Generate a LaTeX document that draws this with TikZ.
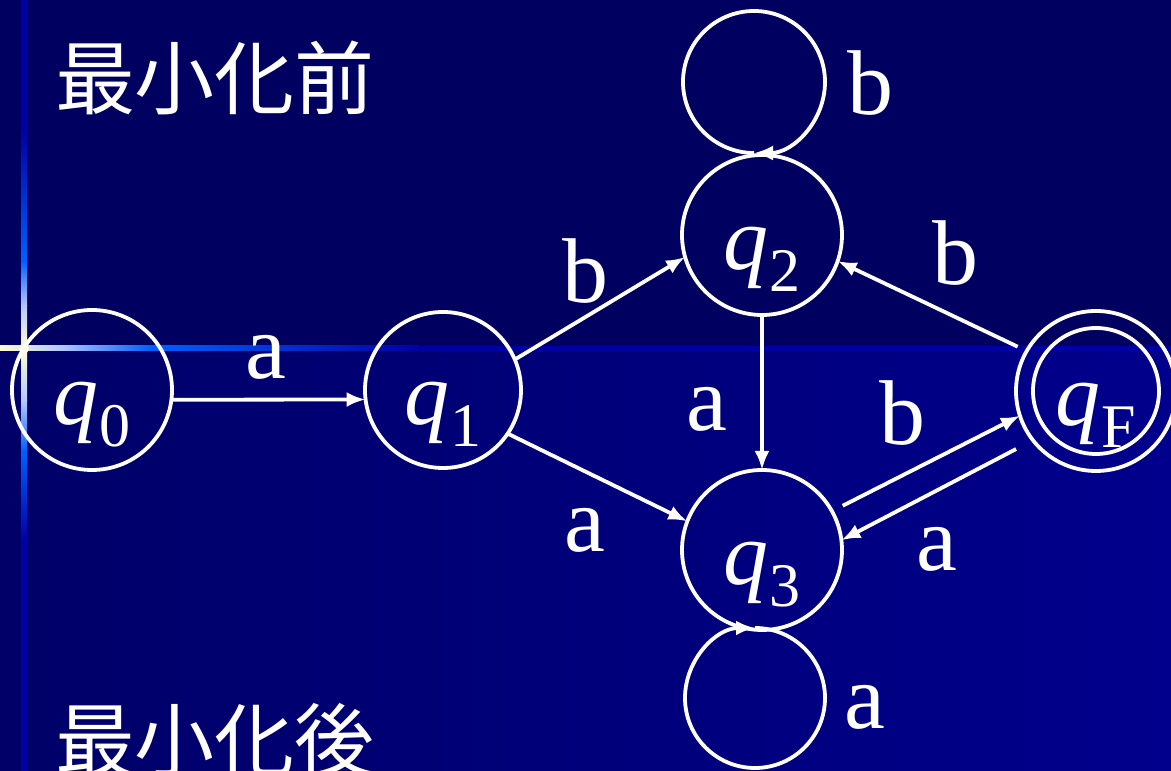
\documentclass[tikz,border=0pt]{standalone}
\usepackage{fontspec}
\setmainfont{Liberation Serif}
\newfontfamily\tnr{Liberation Serif}
\newfontfamily\cjkfont{Noto Sans CJK JP}
\usetikzlibrary{arrows.meta,calc}
\definecolor{bgtop}{RGB}{0,0,96}
\definecolor{bgbl}{RGB}{0,0,104}
\definecolor{bgbr}{RGB}{0,0,140}
\definecolor{barblue}{RGB}{0,0,165}
\definecolor{glowblue}{RGB}{0,96,255}
\definecolor{glowpale}{RGB}{255,252,215}
\definecolor{glowmid}{RGB}{180,200,255}
\newcommand{\qs}[1]{\raisebox{-35pt}[0pt][0pt]{\tnr\itshape q\upshape\kern1pt\raisebox{-22pt}{\fontsize{62}{62}\selectfont #1}}}
\begin{document}
\begin{tikzpicture}[x=1pt,y=1pt,
  stt/.style={circle,draw=white,line width=3.8pt,minimum size=#1,inner sep=0pt,outer sep=0pt,
    text=white,font=\tnr\fontsize{90}{90}\selectfont},
  tr/.style={draw=white,line width=3.8pt,-{Latex[length=19pt,width=15pt]}},
  lab/.style={text=white,font=\tnr\fontsize{92}{92}\selectfont,inner sep=0pt},
  ttl/.style={text=white,font=\cjkfont\fontsize{80}{80}\selectfont,inner sep=0pt}]
% background
\fill[bgtop] (0,0) rectangle (1171,771);
\useasboundingbox (0,0) rectangle (1171,771);
\shade[left color=bgbl,right color=bgbr] (0,0) rectangle (1171,424);
\fill[barblue] (0,420) rectangle (1171,425);
\fill[barblue] (21,0) rectangle (27,771);
% glow streaks
\shade[left color=glowpale,right color=glowmid] (0,420) rectangle (60,425);
\shade[left color=glowmid,right color=glowblue] (60,420) rectangle (150,425);
\shade[left color=glowblue,right color=barblue] (150,420) rectangle (420,425);
\shade[bottom color=glowpale,top color=glowmid] (21,425) rectangle (27,465);
\shade[bottom color=glowmid,top color=glowblue] (21,465) rectangle (27,510);
\shade[bottom color=glowblue,top color=barblue] (21,510) rectangle (27,640);
\shade[top color=glowpale,bottom color=glowmid] (21,420) rectangle (27,370);
\shade[top color=glowmid,bottom color=glowblue] (21,370) rectangle (27,320);
\shade[top color=glowblue,bottom color=barblue] (21,320) rectangle (27,230);
\fill[glowpale] (24,422.5) circle[radius=5];
% titles
\node[ttl] (t1) at (215,693) {最小化前};
\node[ttl] (t2) at (215,31) {最小化後};
% states
\node[stt=160pt] (q0) at (92,381) {\qs{0}};
\node[stt=156pt] (q1) at (443,381) {\qs{1}};
\node[stt=160pt] (q2) at (762,536) {\qs{2}};
\node[stt=160pt] (q3) at (762,221) {\qs{3}};
\node[stt=160pt] (qF) at (1096,380) {\qs{F}};
\node[circle,draw=white,line width=3.8pt,minimum size=126pt,inner sep=0pt] (qFi) at (qF.center) {};
% transitions
\draw[tr] (q0.-7) -- (q1.187);
\draw[tr] (q1.23) -- (q2.196);
\draw[tr] (q1.-34) -- (q3.159);
\draw[tr] (q2.south) -- (q3.north);
\draw[tr,shorten <=10pt] (qF.150) -- (q2.-19);
\draw[tr,shorten <=12pt] (q3.29) -- (qF.198);
\draw[tr,shorten <=19pt] (qF.218) -- (q3.7);
% self loops
\coordinate (l2) at ($(q2.north)+(-8,2)$);
\coordinate (l3) at ($(q3.south)+(-7,2)$);
\draw[tr] (l2) arc[start angle=-90,end angle=-450,radius=71];
\draw[tr] (l3) arc[start angle=450,end angle=90,radius=70];
% labels
\node[lab] (a01) at (266,414) {a};
\node[lab] (b12) at (585,500) {b};
\node[lab] (a13) at (585,241) {a};
\node[lab] (a23) at (707,362) {a};
\node[lab] (bF2) at (955,518) {b};
\node[lab] (b3F) at (902,358) {b};
\node[lab] (aF3) at (937,222) {a};
\node[lab] (b22) at (870,688) {b};
\node[lab] (a33) at (865,64) {a};
\end{tikzpicture}
\end{document}
